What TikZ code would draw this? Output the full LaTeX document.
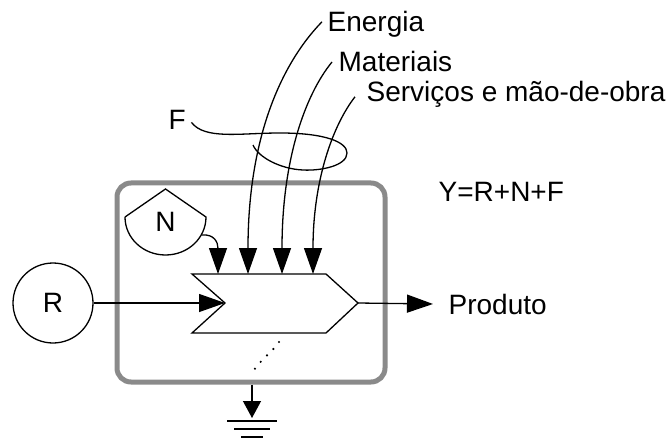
\documentclass[tikz,border=0pt]{standalone}
\usepackage{fontspec}
\setmainfont{Liberation Sans}
\usetikzlibrary{arrows.meta}

\definecolor{boxgray}{RGB}{138,138,138}

\tikzset{
  flow/.style={-{Triangle[length=26pt,width=18pt]}},
  sink/.style={-{Triangle[length=17pt,width=18pt]}},
  lbl/.style={inner sep=0pt,font=\fontsize{28}{33}\selectfont},
}

\begin{document}
\begin{tikzpicture}[x=1pt,y=-1pt,line width=1.3pt]
\useasboundingbox (0,0) rectangle (671,438);

% System frame
\node[draw=boxgray,line width=5pt,rounded corners=14pt,
  minimum width=268pt,minimum height=199pt] (sys) at (251,282.5) {};

% Source R
\node[draw,circle,minimum size=80pt,lbl] (R) at (53,303) {R};

% Production chevron
\coordinate (pin) at (225,303);
\coordinate (pout) at (358,303);
\draw (192,274) -- (326,274) -- (pout) -- (326,333) -- (192,333) -- (pin) -- cycle;

% Inputs on top edge
\coordinate (nin) at (218,274);
\coordinate (ein) at (248,274);
\coordinate (min) at (282,274);
\coordinate (sin) at (313,274);

% Storage N
\draw (125,217) -- (165.5,189) -- (206,217)
  .. controls (206,238) and (188,255) .. (165.5,255)
  .. controls (143,255) and (125,238) .. (125,217);
\node[lbl] (N) at (165.5,222) {N};
\coordinate (nout) at (202,235);

% Labels
\node[lbl,anchor=base west] (energia) at (327,32) {Energia};
\node[lbl,anchor=base west] (mat) at (338,72) {Materiais};
\node[lbl,anchor=base west] (serv) at (366,102) {Serviços e mão-de-obra};
\node[lbl,anchor=base west] (F) at (168,130) {F};
\node[lbl,anchor=base west] (yield) at (438,202) {Y=R+N+F};
\node[lbl,anchor=base west] (prod) at (448,314) {Produto};

% Flows
\draw[flow] (R.east) -- (pin);
\draw[flow] (pout) -- ([xshift=-15pt]prod.west);
\draw[flow] (nout) .. controls (214,234) and (218,242) .. (nin);
\draw[flow] ([shift={(-5,-3)}]energia.west)
  .. controls (280,65) and (248,140) .. (ein);
\draw[flow] ([shift={(-6,0)}]mat.west)
  .. controls (305,95) and (282,160) .. (min);
\draw[flow] ([shift={(-11,2)}]serv.west)
  .. controls (333,125) and (313,180) .. (sin);

% Lasso for F
\draw ([shift={(5,2)}]F.east) .. controls (205,140) and (240,133) .. (280,133)
  .. controls (325,133) and (347,142) .. (347,153)
  .. controls (347,166) and (320,171) .. (303,170)
  .. controls (280,169) and (258,157) .. (253,145);

% Heat sink
\draw[line width=2.4pt,line cap=round,dash pattern=on 0pt off 9pt]
  (279,342) .. controls (272,353) and (259,360) .. (251,375);
\coordinate (gnd) at (252,418);
\draw[sink] (sys.south -| gnd) -- (gnd);
\draw (227,421) -- (277,421);
\draw (234,429) -- (270,429);
\draw (241,437) -- (263,437);

\end{tikzpicture}
\end{document}
